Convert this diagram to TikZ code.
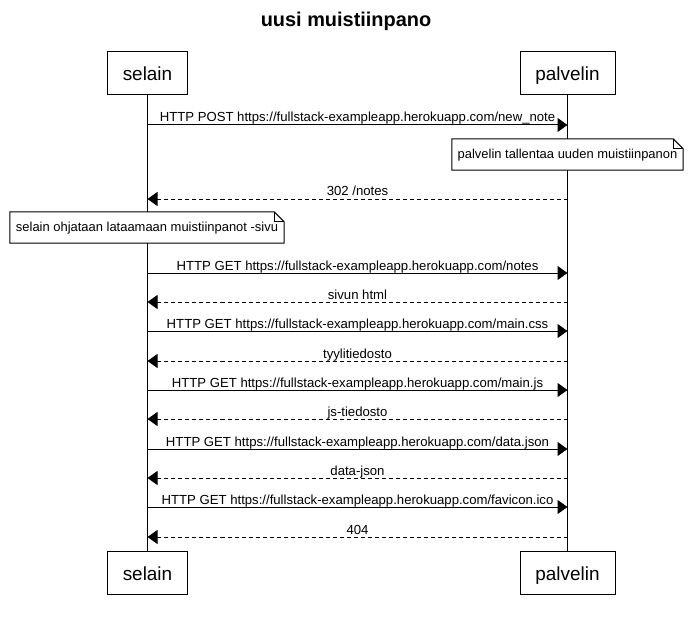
\documentclass[tikz,border=0pt]{standalone}
\usepackage{fontspec}
\setmainfont{Liberation Sans}
\usetikzlibrary{arrows.meta,calc}
\tikzset{
  actor/.style={draw, line width=1bp, minimum height=43bp, inner sep=0pt, text height=18bp, text depth=3bp, font=\fontsize{19}{22}\selectfont},
  life/.style={line width=1bp},
  msg/.style={line width=1bp, -{Triangle[length=10bp,width=14bp]}},
  reply/.style={msg, dash pattern=on 4bp off 3bp},
  lbl/.style={anchor=base, inner sep=0pt, font=\fontsize{13.2}{15}\selectfont},
  notebox/.style={inner sep=0pt, minimum height=31bp, text height=11bp, text depth=2.5bp, font=\fontsize{13}{15}\selectfont},
  noteline/.style={line width=1bp, fill=white},
  titlestyle/.style={font=\fontsize{20}{24}\selectfont\bfseries, inner sep=0pt, anchor=base}
}
\begin{document}
\begin{tikzpicture}[x=1bp,y=-1bp]
\useasboundingbox (0,0) rectangle (692,620);
\node[titlestyle] (title) at (346,27) {uusi muistiinpano};
% actors
\node[actor, minimum width=80bp] (sa) at (147.5,73.5) {selain};
\node[actor, minimum width=95bp] (pa) at (567.5,73.5) {palvelin};
\node[actor, minimum width=80bp] (sb) at (147.5,572.5) {selain};
\node[actor, minimum width=95bp] (pb) at (567.5,572.5) {palvelin};
\draw[life] (sa.south) -- (sb.north);
\draw[life] (pa.south) -- (pb.north);
% message anchor points
\foreach \i/\y in {1/125,2/199,3/273,4/302,5/331,6/361,7/390,8/419,9/449,10/478,11/507,12/537}{
  \coordinate (s\i) at (147.5,\y);
  \coordinate (p\i) at (567.5,\y);
}
\draw[msg] (s1) -- (p1) node[lbl, midway, yshift=3bp] {HTTP POST https://fullstack-exampleapp.herokuapp.com/new\_note};
% note 1
\node[notebox, minimum width=231bp] (n1) at (567.5,154.5) {palvelin tallentaa uuden muistiinpanon};
\draw[noteline] (n1.south west) -- (n1.north west) -- ([xshift=-10bp]n1.north east) -- ([yshift=-10bp]n1.north east) -- (n1.south east) -- cycle;
\draw[line width=1bp] ([xshift=-10bp]n1.north east) -- ([xshift=-10bp,yshift=-10bp]n1.north east) -- ([yshift=-10bp]n1.north east);
\node[notebox, minimum width=231bp] at (n1) {palvelin tallentaa uuden muistiinpanon};
\draw[reply] (p2) -- (s2) node[lbl, midway, yshift=3bp] {302 /notes};
% note 2
\node[notebox, minimum width=274bp] (n2) at (147,227.5) {selain ohjataan lataamaan muistiinpanot -sivu};
\draw[noteline] (n2.south west) -- (n2.north west) -- ([xshift=-10bp]n2.north east) -- ([yshift=-10bp]n2.north east) -- (n2.south east) -- cycle;
\draw[line width=1bp] ([xshift=-10bp]n2.north east) -- ([xshift=-10bp,yshift=-10bp]n2.north east) -- ([yshift=-10bp]n2.north east);
\node[notebox, minimum width=274bp] at (n2) {selain ohjataan lataamaan muistiinpanot -sivu};
\draw[msg] (s3) -- (p3) node[lbl, midway, yshift=3bp] {HTTP GET https://fullstack-exampleapp.herokuapp.com/notes};
\draw[reply] (p4) -- (s4) node[lbl, midway, yshift=3bp] {sivun html};
\draw[msg] (s5) -- (p5) node[lbl, midway, yshift=3bp] {HTTP GET https://fullstack-exampleapp.herokuapp.com/main.css};
\draw[reply] (p6) -- (s6) node[lbl, midway, yshift=3bp] {tyylitiedosto};
\draw[msg] (s7) -- (p7) node[lbl, midway, yshift=3bp] {HTTP GET https://fullstack-exampleapp.herokuapp.com/main.js};
\draw[reply] (p8) -- (s8) node[lbl, midway, yshift=3bp] {js-tiedosto};
\draw[msg] (s9) -- (p9) node[lbl, midway, yshift=3bp] {HTTP GET https://fullstack-exampleapp.herokuapp.com/data.json};
\draw[reply] (p10) -- (s10) node[lbl, midway, yshift=3bp] {data-json};
\draw[msg] (s11) -- (p11) node[lbl, midway, yshift=3bp] {HTTP GET https://fullstack-exampleapp.herokuapp.com/favicon.ico};
\draw[reply] (p12) -- (s12) node[lbl, midway, yshift=3bp] {404};
\end{tikzpicture}
\end{document}
